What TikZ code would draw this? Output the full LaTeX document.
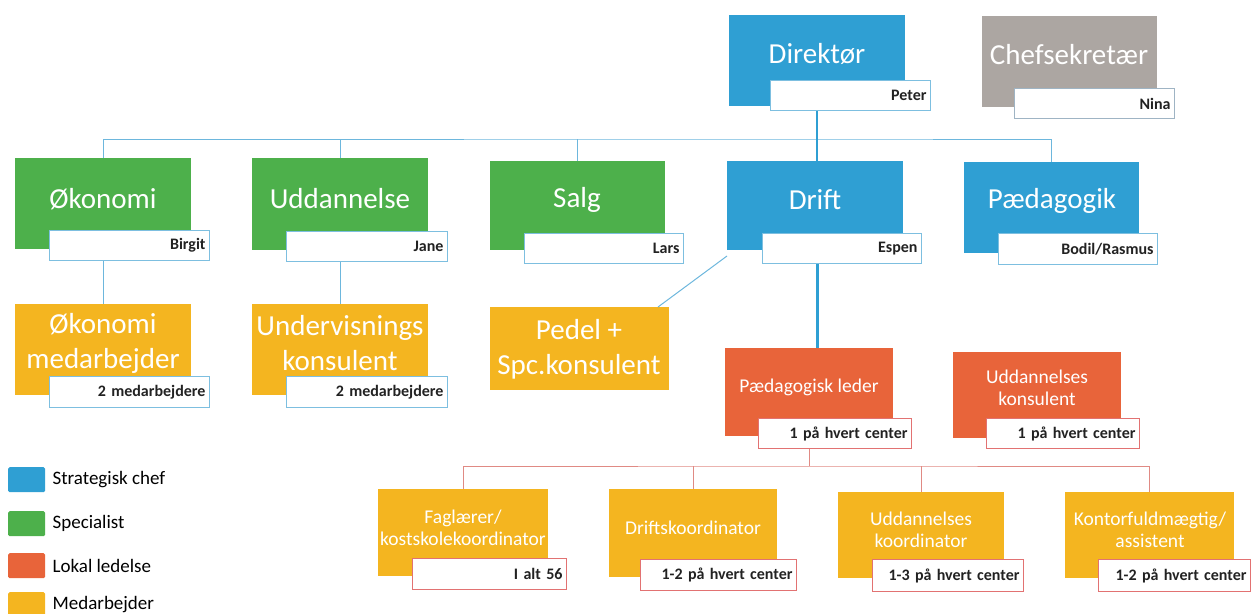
\documentclass[tikz,border=0pt]{standalone}
\usepackage{fontspec}
\setmainfont{Carlito}
\usetikzlibrary{positioning,calc}
\definecolor{chefColor}{HTML}{2F9FD3}
\definecolor{specColor}{HTML}{4DB04B}
\definecolor{sekColor}{HTML}{ACA6A2}
\definecolor{lokalColor}{HTML}{E8643A}
\definecolor{medColor}{HTML}{F4B520}
\definecolor{nameBlue}{HTML}{7DBFE0}
\definecolor{nameRed}{HTML}{E27272}
\definecolor{nameGrey}{HTML}{9FB4C4}
\definecolor{busColor}{HTML}{6DB7DD}
\definecolor{treeColor}{HTML}{E08A84}
\definecolor{nameText}{HTML}{222222}
\tikzset{
	unit/.style={anchor=north west, inner sep=0, outer sep=0, minimum width=176pt, minimum height=91pt},
	chef/.style={unit, fill=chefColor},
	spec/.style={unit, fill=specColor},
	sek/.style={unit, fill=sekColor},
	lokal/.style={unit, fill=lokalColor},
	medarb/.style={unit, fill=medColor},
	unittext/.style={text=white, font=\fontsize{29}{35}\selectfont, align=center, inner sep=0},
	unitsmall/.style={text=white, font=\fontsize{19.5}{22}\selectfont, align=center, inner sep=0},
	namebox/.style={anchor=north west, draw=#1, fill=white, line width=1pt, minimum height=30pt,
		text width=152pt, align=right, inner xsep=4pt, inner ysep=0, text=nameText,
		font=\fontsize{16}{18}\selectfont\bfseries},
	namebox/.default=nameBlue,
	bus/.style={draw=busColor, line width=1pt},
	tree/.style={draw=treeColor, line width=1pt},
	legbox/.style={anchor=north west, fill=#1, minimum width=37pt, minimum height=25pt, inner sep=0, rounded corners=1.5pt},
	legtext/.style={anchor=west, inner sep=0, font=\fontsize{19}{22}\selectfont}
}

\begin{document}
\begin{tikzpicture}[x=1pt, y=-1pt]
	\useasboundingbox (0,0) rectangle (1252,613);
	% top
	\node[chef] (dir) at (729,15) {};
	\node[unittext] (dir_t) at (817,54) {Direktør};
	\node[namebox] (dir_n) at (770,80) {Peter};
	\node[sek, minimum width=175pt] (sek) at (982,16) {};
	\node[unittext] (sek_t) at (1069,55) {Chefsekretær};
	\node[namebox=nameGrey] (sek_n) at (1014,88) {Nina};
	% row 2
	\node[spec] (oko) at (15,158) {};
	\node[unittext] (oko_t) at (103,199) {Økonomi};
	\node[namebox] (oko_n) at (49,230) {Birgit};
	\node[spec, minimum height=92pt] (udd) at (252,158) {};
	\node[unittext] (udd_t) at (340,199) {Uddannelse};
	\node[namebox, text width=153pt] (udd_n) at (286,231) {Jane};
	\node[spec, minimum width=175pt, minimum height=89pt] (salg) at (490,161) {};
	\node[unittext] (salg_t) at (577,200) {Salg};
	\node[namebox, text width=151pt] (salg_n) at (524,233) {Lars};
	\node[chef, minimum height=89pt] (drift) at (727,161) {};
	\node[unittext] (drift_t) at (815,200) {Drift};
	\node[namebox, text width=151pt] (drift_n) at (762,233) {Espen};
	\node[chef, minimum width=175pt] (paed) at (964,162) {};
	\node[unittext] (paed_t) at (1052,201) {Pædagogik};
	\node[namebox, text width=151pt, minimum height=31pt] (paed_n) at (998,233) {Bodil/Rasmus};
	% row 3
	\node[medarb] (okom) at (15,304) {};
	\node[unittext] (okom_t) at (103,343) {Økonomi\\medarbejder};
	\node[namebox, minimum height=31pt] (okom_n) at (49,376) {2 medarbejdere};
	\node[medarb] (undk) at (252,304) {};
	\node[unittext] (undk_t) at (340,343) {Undervisnings\\konsulent};
	\node[namebox, text width=153pt, minimum height=31pt] (undk_n) at (286,376) {2 medarbejdere};
	\node[medarb, minimum width=179pt, minimum height=83pt] (pedel) at (490,307) {};
	\node[unittext] (pedel_t) at (579,349) {Pedel +\\Spc.konsulent};
	\node[lokal, minimum width=168pt, minimum height=88pt] (pl) at (725,348) {};
	\node[unitsmall] (pl_t) at (809,387) {Pædagogisk leder};
	\node[namebox=nameRed, text width=145pt] (pl_n) at (758,418) {1 på hvert center};
	\node[lokal, minimum width=168pt, minimum height=86pt] (udkons) at (953,352) {};
	\node[unitsmall] (udkons_t) at (1037,388) {Uddannelses\\konsulent};
	\node[namebox=nameRed, text width=145pt] (udkons_n) at (986,418) {1 på hvert center};
	% bottom row
	\node[medarb, minimum width=170pt, minimum height=87pt] (fag) at (378,489) {};
	\node[unitsmall] (fag_t) at (463,528) {Faglærer/\\kostskolekoordinator};
	\node[namebox=nameRed, text width=146pt, minimum height=31pt] (fag_n) at (412,558) {I alt 56};
	\node[medarb, minimum width=168pt, minimum height=88pt] (drk) at (609,489) {};
	\node[unitsmall] (drk_t) at (693,528) {Driftskoordinator};
	\node[namebox=nameRed, text width=148pt, minimum height=31pt] (drk_n) at (640,559) {1-2 på hvert center};
	\node[medarb, minimum width=166pt, minimum height=86pt] (udk) at (838,492) {};
	\node[unitsmall] (udk_t) at (921,530) {Uddannelses\\koordinator};
	\node[namebox=nameRed, text width=143pt, minimum height=32pt] (udk_n) at (872,559) {1-3 på hvert center};
	\node[medarb, minimum width=169pt, minimum height=86pt] (kon) at (1065,492) {};
	\node[unitsmall] (kon_t) at (1150,530) {Kontorfuldmægtig/\\assistent};
	\node[namebox=nameRed, text width=144pt, minimum height=32pt] (kon_n) at (1098,559) {1-2 på hvert center};
	% legend
	\node[legbox=chefColor] (leg1) at (8,467) {};
	\node[legtext, right=7pt of leg1] (leg1_t) {Strategisk chef};
	\node[legbox=specColor] (leg2) at (8,511) {};
	\node[legtext, right=7pt of leg2] (leg2_t) {Specialist};
	\node[legbox=lokalColor] (leg3) at (8,553) {};
	\node[legtext, right=7pt of leg3] (leg3_t) {Lokal ledelse};
	\node[legbox=medColor] (leg4) at (8,592) {};
	\node[legtext, right=7pt of leg4] (leg4_t) {Medarbejder};
	% lines
	\coordinate (hub) at (817,139);
	\coordinate (rhub) at (809,466);
	\path[bus] (oko.north) |- (hub) -| (paed.north);
	\path[bus] (udd.north) -- (udd.north |- hub);
	\path[bus] (salg.north) -- (salg.north |- hub);
	\path[bus] (oko.south |- oko_n.south) -- (okom.north);
	\path[bus] (udd.south |- udd_n.south) -- (undk.north);
	\path[bus] ([xshift=-11pt]pedel.north east) -- ([yshift=-6pt]drift.south west);
	\draw[chefColor, line width=2pt] (dir.south |- dir_n.south) -- (dir.south |- drift.north);
	\draw[chefColor, line width=3pt] (hub |- drift_n.south) -- (hub |- pl.north);
	%\path[tree] (pl_n.south) -- (rhub);
	\path[tree] (pl.south |- pl_n.south) -- (rhub);
	\path[tree] (fag.north) |- (rhub) -| (kon.north);
	\path[tree] (drk.north) -- (drk.north |- rhub);
	\path[tree] (udk.north) -- (udk.north |- rhub);
\end{tikzpicture}
\end{document}
